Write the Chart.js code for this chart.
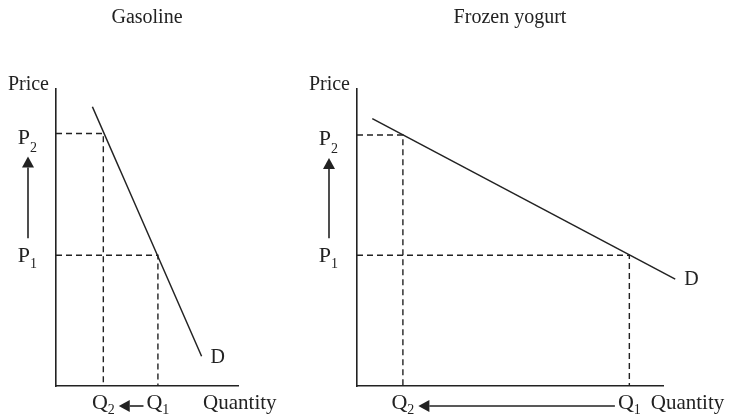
<!DOCTYPE html>
<html>
<head>
<meta charset="utf-8">
<script src="https://cdn.jsdelivr.net/npm/chart.js@4/dist/chart.umd.min.js"></script>
<style>
    html, body { margin: 0; padding: 0; background: #fff; }
    #wrap { position: relative; width: 730px; height: 416px; }
    canvas { position: absolute; top: 0; }
</style>
</head>
<body>
<div id="wrap">
    <canvas id="gasChart" width="300" height="416" style="left:0"></canvas>
    <canvas id="yogChart" width="430" height="416" style="left:300px"></canvas>
</div>
<script>
// Gasoline: steep (inelastic) demand
const gasQ = [2.6, 5.6];          // Q2, Q1
const gasP = [8.5, 4.4];          // P2, P1
const gasDemandX = [2.0, 8.0];
const gasDemandY = [9.4, 1.0];

// Frozen yogurt: flat (elastic) demand
const yogQ = [1.5, 8.9];          // Q2, Q1
const yogP = [8.45, 4.4];         // P2, P1
const yogDemandX = [0.5, 10.4];
const yogDemandY = [9.0, 3.6];

const priceNames = ['2', '1'];    // subscripts, same order as the P arrays
const quantityNames = ['2', '1'];

const INK = '#222';
const SERIF = '"Liberation Serif", "DejaVu Serif", serif';

function drawArrow(ctx, x1, y1, x2, y2) {
    // shaft from (x1,y1) to head tip at (x2,y2)
    const ang = Math.atan2(y2 - y1, x2 - x1);
    const len = 11, half = 6;
    const bx = x2 - Math.cos(ang) * len, by = y2 - Math.sin(ang) * len;
    ctx.beginPath();
    ctx.moveTo(x1, y1);
    ctx.lineTo(bx, by);
    ctx.lineWidth = 1.6;
    ctx.stroke();
    ctx.beginPath();
    ctx.moveTo(x2, y2);
    ctx.lineTo(bx - Math.sin(ang) * half, by + Math.cos(ang) * half);
    ctx.lineTo(bx + Math.sin(ang) * half, by - Math.cos(ang) * half);
    ctx.closePath();
    ctx.fill();
}

// letter with subscript; baseline at base, returns its width
function subLabel(ctx, letter, sub, cx, base, drop, align) {
    ctx.font = '22px ' + SERIF;
    const w1 = ctx.measureText(letter).width;
    ctx.font = '14px ' + SERIF;
    const w2 = ctx.measureText(sub).width;
    const w = w1 + w2;
    let left = cx - w / 2;
    if (align === 'right') left = cx - w;
    ctx.textBaseline = 'alphabetic';
    ctx.textAlign = 'left';
    ctx.font = '22px ' + SERIF;
    ctx.fillText(letter, left, base);
    ctx.font = '14px ' + SERIF;
    ctx.fillText(sub, left + w1, base + drop);
    return w;
}

const econLabels = {
    id: 'econLabels',
    afterDraw(chart, args, opts) {
        const { ctx, chartArea: a, scales: { x, y } } = chart;
        ctx.save();
        ctx.fillStyle = INK;
        ctx.strokeStyle = INK;

        ctx.font = '20px ' + SERIF;
        ctx.textAlign = 'center';
        ctx.textBaseline = 'middle';
        ctx.fillText(opts.title, (a.left + a.right) / 2, 18);

        ctx.textAlign = 'right';
        ctx.textBaseline = 'alphabetic';
        ctx.fillText('Price', a.left - 7, a.top + 1);

        const dEnd = opts.demandX.length - 1;
        ctx.textAlign = 'left';
        ctx.textBaseline = 'middle';
        ctx.fillText('D', x.getPixelForValue(opts.demandX[dEnd]) + 9, y.getPixelForValue(opts.demandY[dEnd]) + 1);

        ctx.font = '21px ' + SERIF;
        ctx.textAlign = 'center';
        ctx.fillText('Quantity', x.getPixelForValue(opts.quantityAt), a.bottom + 17);

        // price labels and upward arrow
        const pTop = y.getPixelForValue(opts.prices[0]);
        const pBot = y.getPixelForValue(opts.prices[1]);
        subLabel(ctx, 'P', priceNames[0], a.left - 19, pTop + 10, 8, 'right');
        subLabel(ctx, 'P', priceNames[1], a.left - 19, pBot + 7, 6, 'right');
        drawArrow(ctx, a.left - 28, pBot - 17, a.left - 28, pTop + 23);

        // quantity labels and leftward arrow
        const qL = x.getPixelForValue(opts.quantities[0]);
        const qR = x.getPixelForValue(opts.quantities[1]);
        const w1 = subLabel(ctx, 'Q', quantityNames[0], qL, a.bottom + 23, 5);
        const w2 = subLabel(ctx, 'Q', quantityNames[1], qR, a.bottom + 23, 5);
        drawArrow(ctx, qR - w2 / 2 - 3, a.bottom + 20, qL + w1 / 2 + 4, a.bottom + 20);

        ctx.restore();
    }
};

function buildChart(canvasId, title, qs, ps, dx, dy, quantityAt, pad) {
    const dashed = qs.map((q, i) => ({
        data: [{ x: 0, y: ps[i] }, { x: q, y: ps[i] }, { x: q, y: 0 }],
        borderColor: INK,
        borderWidth: 1.4,
        borderDash: [6, 4],
        showLine: true,
        pointRadius: 0,
        fill: false
    }));
    const demand = {
        data: dx.map((v, i) => ({ x: v, y: dy[i] })),
        borderColor: INK,
        borderWidth: 1.5,
        showLine: true,
        pointRadius: 0,
        clip: false
    };
    const axis = {
        type: 'linear',
        min: 0,
        max: 10,
        grid: { display: false, drawTicks: false },
        ticks: { display: false },
        border: { display: true, color: INK, width: 1.6 }
    };
    return new Chart(document.getElementById(canvasId), {
        type: 'scatter',
        data: { datasets: [...dashed, demand] },
        options: {
            responsive: false,
            animation: false,
            layout: { padding: pad },
            scales: { x: { ...axis }, y: { ...axis } },
            plugins: {
                legend: { display: false },
                tooltip: { enabled: false },
                econLabels: { title, prices: ps, quantities: qs, demandX: dx, demandY: dy, quantityAt }
            }
        },
        plugins: [econLabels]
    });
}

buildChart('gasChart', 'Gasoline', gasQ, gasP, gasDemandX, gasDemandY, 10.1,
    { left: 56, top: 89, right: 62, bottom: 30 });
buildChart('yogChart', 'Frozen yogurt', yogQ, yogP, yogDemandX, yogDemandY, 10.8,
    { left: 57, top: 89, right: 67, bottom: 30 });
</script>
</body>
</html>
